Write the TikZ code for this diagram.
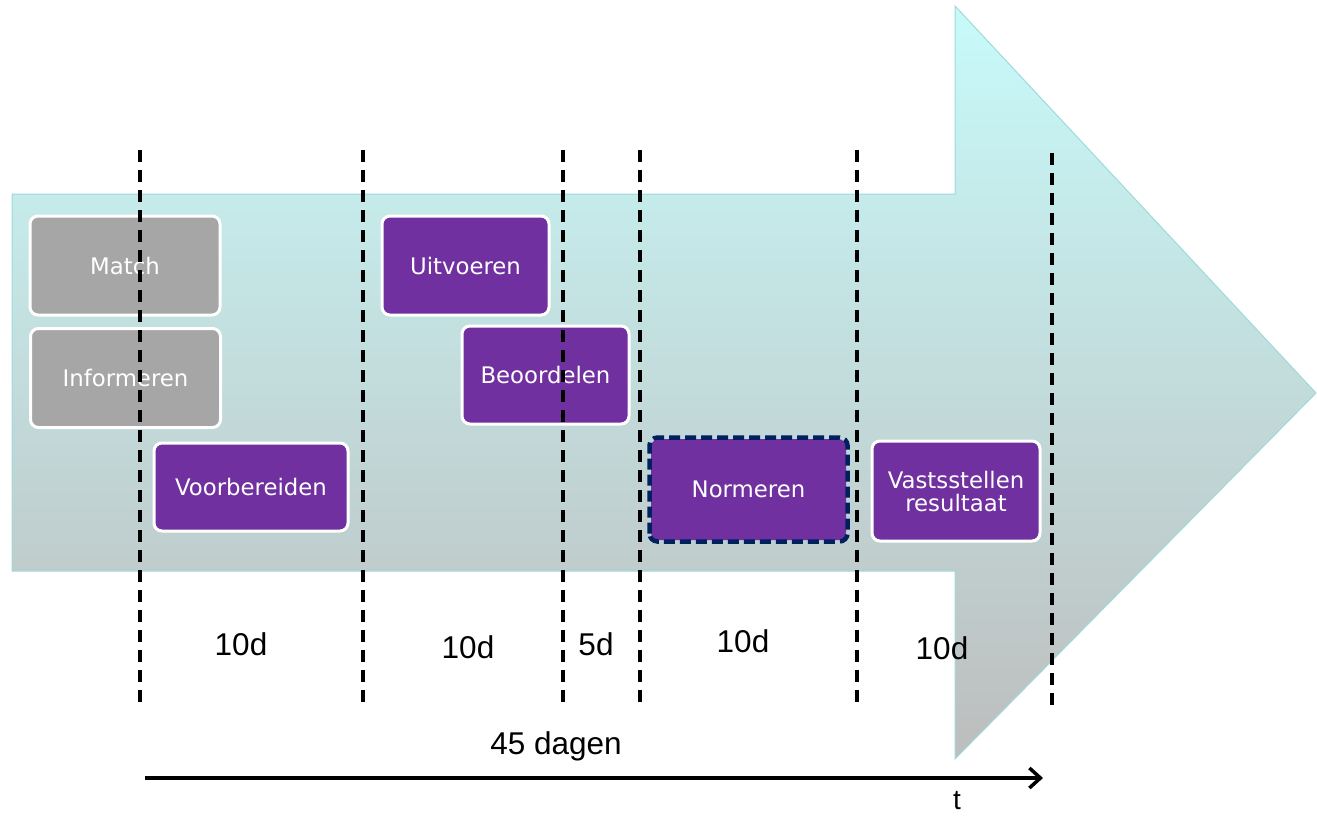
\documentclass[tikz,border=0pt]{standalone}
\usepackage{fontspec}
\setmainfont{Liberation Sans}
\newfontfamily\boxfont{DejaVu Sans}
\usetikzlibrary{arrows.meta}
\definecolor{tpurple}{RGB}{112,48,160}
\definecolor{tgray}{RGB}{166,166,166}
\definecolor{tnavy}{RGB}{0,32,96}
\definecolor{tedge}{RGB}{158,218,218}
\definecolor{ttop}{RGB}{200,250,250}
\definecolor{tmid}{RGB}{196,226,226}
\definecolor{tbot}{RGB}{189,189,189}
\tikzset{
  taskbox/.style={draw=white, line width=3pt, rounded corners=8pt, text=white,
    font=\boxfont\fontsize{22.8}{25}\selectfont, inner sep=0pt, align=center},
  graybox/.style={taskbox, fill=tgray},
  purplebox/.style={taskbox, fill=tpurple},
  divider/.style={line width=4pt, dash pattern=on 12pt off 8pt},
  daylabel/.style={font=\fontsize{31.5}{34}\selectfont, inner sep=0pt}
}
\begin{document}
\begin{tikzpicture}[x=1pt,y=-1pt]
\useasboundingbox (0,0) rectangle (1317,817);
% big arrow
\shade[top color=ttop, middle color=tmid, bottom color=tbot, draw=tedge, line width=1pt]
  (12,194) -- (955,194) -- (955,6) -- (1316,393) -- (955,759) -- (955,571) -- (12,571) -- cycle;
% boxes
\node[graybox, minimum width=190pt, minimum height=99pt] (match) at (125,265.5) {Match};
\node[graybox, minimum width=190pt, minimum height=99pt] (inform) at (125.5,378) {Informeren};
\node[purplebox, minimum width=194pt, minimum height=88pt] (voorb) at (251,487) {Voorbereiden};
\node[purplebox, minimum width=167pt, minimum height=99pt] (uitv) at (465.5,265.5) {Uitvoeren};
\node[purplebox, minimum width=167pt, minimum height=98pt] (beoord) at (545.5,375) {Beoordelen};
\node[taskbox, draw=none, fill=tpurple, minimum width=195pt, minimum height=101pt] (norm) at (748.5,489.5) {Normeren};
\draw[tnavy, line width=4.5pt, dash pattern=on 11pt off 5pt, rounded corners=8pt]
  (norm.south west) rectangle (norm.north east);
\node[purplebox, minimum width=168pt, minimum height=100pt] (vast) at (956,491) {Vastsstellen\\[-2pt]resultaat};
% dividers
\foreach \n/\x/\t/\b in {d1/140/150/705, d2/363/150/705, d3/563/150/705, d4/640/150/705, d5/857/150/705, d6/1052/153/710}{
  \coordinate (\n t) at (\x,\t);
  \coordinate (\n b) at (\x,\b);
  \draw[divider] (\n t) -- (\n b);
}
% day labels
\node[daylabel] (l1) at (241,644) {10d};
\node[daylabel] (l2) at (468,647) {10d};
\node[daylabel] (l3) at (596,644) {5d};
\node[daylabel] (l4) at (743,641) {10d};
\node[daylabel] (l5) at (942,648) {10d};
\node[daylabel] (total) at (556,746) {45 dagen};
% time axis
\coordinate (ts) at (145,778);
\coordinate (te) at (1043,778);
\draw[line width=3.5pt, -{Straight Barb[length=11pt, width=20pt, line width=3.5pt]}] (ts) -- (te);
\node[font=\fontsize{28}{30}\selectfont, inner sep=0pt, anchor=base] (tlab) at (957,809) {t};
\end{tikzpicture}
\end{document}
